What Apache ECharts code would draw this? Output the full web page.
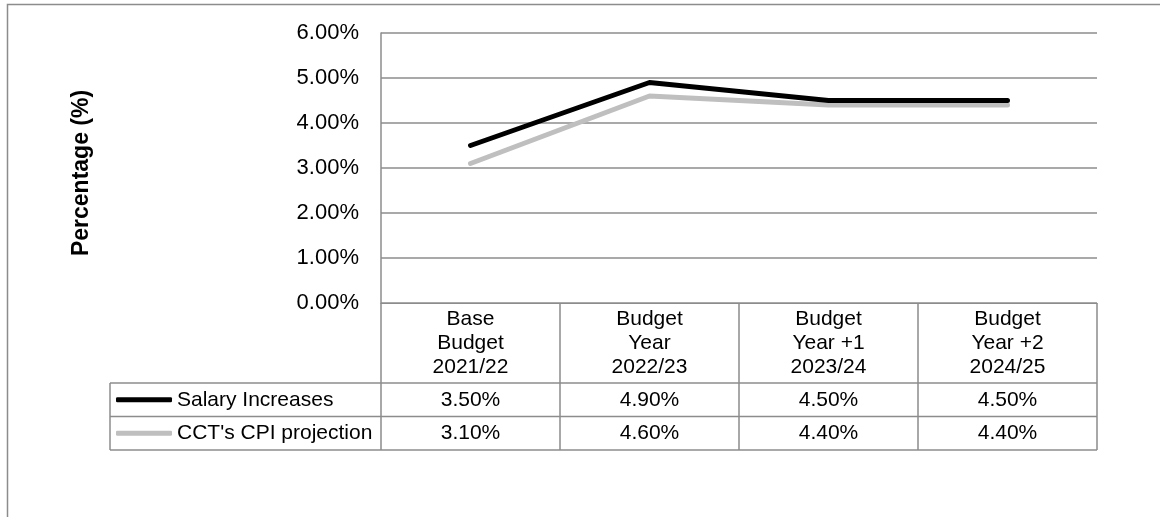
<!DOCTYPE html>
<html>
<head>
<meta charset="utf-8">
<script src="https://cdn.jsdelivr.net/npm/echarts@6/dist/echarts.min.js"></script>
<style>
html,body{margin:0;padding:0;background:#fff;}
#c{width:1160px;height:517px;}
</style>
</head>
<body>
<div id="c"></div>
<script>
// ---- data ----
const categories = ['Base\nBudget\n2021/22', 'Budget\nYear\n2022/23', 'Budget\nYear +1\n2023/24', 'Budget\nYear +2\n2024/25'];
const seriesNames = ['Salary Increases', "CCT's CPI projection"];
const salaryIncreases = [3.5, 4.9, 4.5, 4.5];
const cpiProjection = [3.1, 4.6, 4.4, 4.4];
const yTicks = [0, 1, 2, 3, 4, 5, 6];
const yTitle = 'Percentage (%)';

// ---- layout / style ----
const FONT = "'Liberation Sans', Arial, sans-serif";
const GRID = { left: 381, top: 33, width: 716, height: 270 };
const HEADER_H = 80, ROW_H = 33.5, TABLE_LEFT = 110;
const LINE_GRAY = '#8c8c8c';
const TXT = 21;
const pct = v => v.toFixed(2) + '%';

const gridBottom = GRID.top + GRID.height;
const gridRight = GRID.left + GRID.width;
const row1Top = gridBottom + HEADER_H;
const row2Top = row1Top + ROW_H;
const tableBottom = row2Top + ROW_H;

const chart = echarts.init(document.getElementById('c'), null, { renderer: 'canvas' });

const valueAxis = (data, offset) => ({
  type: 'category',
  gridIndex: 0,
  position: 'bottom',
  offset: offset,
  data: data.map(pct),
  boundaryGap: true,
  axisLine: { show: false },
  axisTick: { show: false },
  splitLine: { show: false },
  axisLabel: {
    interval: 0, margin: 0, fontFamily: FONT, fontSize: TXT, color: '#000',
    lineHeight: ROW_H, verticalAlign: 'top'
  }
});

const option = {
  animation: false,
  backgroundColor: '#fff',
  textStyle: { fontFamily: FONT },
  grid: { left: GRID.left, top: GRID.top, width: GRID.width, height: GRID.height, containLabel: false },
  legend: {
    orient: 'vertical',
    left: 116,
    top: row1Top,
    padding: 0,
    itemGap: 0,
    itemWidth: 56,
    itemHeight: 5,
    textStyle: { fontFamily: FONT, fontSize: TXT, color: '#000', lineHeight: ROW_H, height: ROW_H },
    data: [
      { name: seriesNames[0], icon: 'roundRect', itemStyle: { color: '#000' } },
      { name: seriesNames[1], icon: 'roundRect', itemStyle: { color: '#bfbfbf' } }
    ],
    selectedMode: false
  },
  xAxis: [
    {
      type: 'category',
      gridIndex: 0,
      data: categories,
      boundaryGap: true,
      axisLine: { show: true, lineStyle: { color: LINE_GRAY, width: 1 } },
      axisTick: { show: true, interval: 0, length: HEADER_H + 2 * ROW_H, lineStyle: { color: LINE_GRAY, width: 1.5 } },
      axisLabel: {
        interval: 0, margin: 4, fontFamily: FONT, fontSize: TXT, color: '#000',
        lineHeight: 24, align: 'center'
      },
      splitLine: { show: false }
    },
    valueAxis(salaryIncreases, HEADER_H),
    valueAxis(cpiProjection, HEADER_H + ROW_H)
  ],
  yAxis: {
    type: 'value',
    min: yTicks[0],
    max: yTicks[yTicks.length - 1],
    interval: 1,
    name: yTitle,
    nameLocation: 'middle',
    nameRotate: 90,
    nameGap: 288,
    nameTextStyle: { fontFamily: FONT, fontSize: 23, fontWeight: 'bold', color: '#000', padding: [0, 10, 0, 0] },
    axisLine: { show: true, lineStyle: { color: LINE_GRAY, width: 1.5 } },
    axisTick: { show: false },
    axisLabel: { margin: 22, fontFamily: FONT, fontSize: 22, color: '#000', formatter: v => pct(v) },
    splitLine: { show: true, lineStyle: { color: LINE_GRAY, width: 1.5 } }
  },
  series: [
    {
      name: seriesNames[0],
      type: 'line',
      data: salaryIncreases,
      symbol: 'none',
      z: 4,
      lineStyle: { color: '#000', width: 5, cap: 'round', join: 'round' },
      itemStyle: { color: '#000' }
    },
    {
      name: seriesNames[1],
      type: 'line',
      data: cpiProjection,
      symbol: 'none',
      z: 3,
      lineStyle: { color: '#bfbfbf', width: 5, cap: 'round', join: 'round' },
      itemStyle: { color: '#bfbfbf' }
    }
  ],
  graphic: [
    // outer chart border
    { type: 'rect', shape: { x: 7.5, y: 4.5, width: 1300, height: 700 }, style: { fill: 'none', stroke: LINE_GRAY, lineWidth: 1.5 }, silent: true, z: -1 },
    // data table rows
    { type: 'line', shape: { x1: TABLE_LEFT, y1: row1Top, x2: gridRight, y2: row1Top }, style: { stroke: LINE_GRAY, lineWidth: 1.5 }, silent: true },
    { type: 'line', shape: { x1: TABLE_LEFT, y1: row2Top, x2: gridRight, y2: row2Top }, style: { stroke: LINE_GRAY, lineWidth: 1.5 }, silent: true },
    { type: 'line', shape: { x1: TABLE_LEFT, y1: tableBottom, x2: gridRight, y2: tableBottom }, style: { stroke: LINE_GRAY, lineWidth: 1.5 }, silent: true },
    { type: 'line', shape: { x1: TABLE_LEFT, y1: row1Top, x2: TABLE_LEFT, y2: tableBottom }, style: { stroke: LINE_GRAY, lineWidth: 1.5 }, silent: true }
  ]
};

chart.setOption(option);
</script>
</body>
</html>
